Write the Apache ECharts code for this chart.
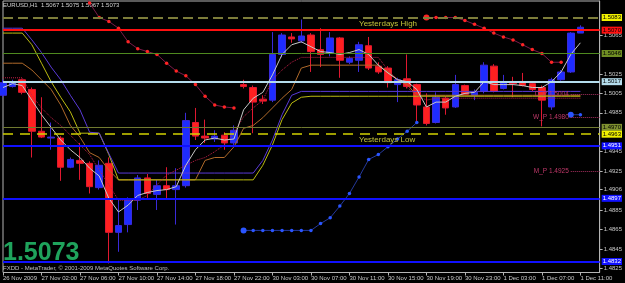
<!DOCTYPE html>
<html>
<head>
<meta charset="utf-8">
<script src="https://cdn.jsdelivr.net/npm/echarts@6/dist/echarts.min.js"></script>
<style>
  html, body { margin: 0; padding: 0; background: #000; }
  #chart { width: 625px; height: 283px; }
</style>
</head>
<body>
<div id="chart"></div>
<script>
var symbolName = 'EURUSD,H1';

// one label every 4 hourly bars
var tickLabels = ['26 Nov 2009', '27 Nov 02:00', '27 Nov 06:00', '27 Nov 10:00', '27 Nov 14:00', '27 Nov 18:00',
  '27 Nov 22:00', '30 Nov 03:00', '30 Nov 07:00', '30 Nov 11:00', '30 Nov 15:00', '30 Nov 19:00',
  '30 Nov 23:00', '1 Dec 03:00', '1 Dec 07:00', '1 Dec 11:00'];

var opens = [1.5003, 1.5012, 1.5019, 1.5009, 1.4966, 1.4959, 1.4959, 1.4929, 1.4936, 1.4933,
  1.4908, 1.4933, 1.4862, 1.4870, 1.4895, 1.4918, 1.4901, 1.4910, 1.4906, 1.4910,
  1.4975, 1.4961, 1.4958, 1.4962, 1.4954, 1.5014, 1.5011, 1.4999, 1.4998, 1.5045,
  1.5063, 1.5059, 1.5065, 1.5050, 1.5046, 1.5062, 1.5037, 1.5039, 1.5054, 1.5033,
  1.5031, 1.5014, 1.5020, 1.5014, 1.4991, 1.4975, 1.5000, 1.4991, 1.5013, 1.5003,
  1.5007, 1.5033, 1.5010, 1.5016, 1.5017, 1.5015, 1.5011, 1.4991, 1.5019, 1.5027,
  1.5067];
var closes = [1.5016, 1.5017, 1.5006, 1.4966, 1.4960, 1.4960, 1.4929, 1.4937, 1.4933, 1.4909,
  1.4931, 1.4862, 1.4869, 1.4896, 1.4918, 1.4902, 1.4910, 1.4906, 1.4910, 1.4977,
  1.4961, 1.4959, 1.4961, 1.4954, 1.4967, 1.5012, 1.4996, 1.4997, 1.5045, 1.5065,
  1.5061, 1.5064, 1.5048, 1.5045, 1.5062, 1.5039, 1.5041, 1.5055, 1.5031, 1.5027,
  1.5016, 1.5019, 1.5012, 1.4993, 1.4974, 1.5001, 1.4990, 1.5014, 1.5004, 1.5006,
  1.5034, 1.5007, 1.5016, 1.5015, 1.5013, 1.5009, 1.4998, 1.5019, 1.5027, 1.5067,
  1.5073];
var lows = [1.5001, 1.5011, 1.5004, 1.4939, 1.4959, 1.4947, 1.4915, 1.4928, 1.4916, 1.4902,
  1.4906, 1.4830, 1.4842, 1.4862, 1.4885, 1.4897, 1.4885, 1.4896, 1.4870, 1.4908,
  1.4957, 1.4954, 1.4955, 1.4947, 1.4952, 1.5010, 1.4964, 1.4994, 1.4996, 1.5042,
  1.5057, 1.5057, 1.5027, 1.5032, 1.5043, 1.5021, 1.5035, 1.5027, 1.5029, 1.5025,
  1.5011, 1.4996, 1.5010, 1.4975, 1.4972, 1.4974, 1.4983, 1.4990, 1.5003, 1.4998,
  1.5005, 1.5006, 1.5009, 1.5001, 1.5012, 1.5007, 1.4971, 1.4988, 1.5018, 1.5026,
  1.5067];
var highs = [1.5019, 1.5019, 1.5020, 1.5011, 1.5001, 1.4975, 1.4961, 1.4939, 1.4954, 1.4935,
  1.4936, 1.4939, 1.4897, 1.4898, 1.4921, 1.4922, 1.4916, 1.4929, 1.4928, 1.4985,
  1.4990, 1.4978, 1.4967, 1.4965, 1.4972, 1.5019, 1.5013, 1.5003, 1.5068, 1.5067,
  1.5067, 1.5081, 1.5067, 1.5072, 1.5068, 1.5063, 1.5043, 1.5058, 1.5063, 1.5037,
  1.5033, 1.5021, 1.5045, 1.5015, 1.5005, 1.5006, 1.5002, 1.5024, 1.5014, 1.5009,
  1.5037, 1.5035, 1.5024, 1.5022, 1.5026, 1.5017, 1.5013, 1.5021, 1.5029, 1.5068,
  1.5075];

// indicator lines
var maWhite = [1.5011, 1.5015, 1.5013, 1.4998, 1.4983, 1.4970, 1.4957, 1.4947, 1.4939, 1.4928,
  1.4920, 1.4897, 1.4883, 1.4890, 1.4900, 1.4903, 1.4905, 1.4906, 1.4909, 1.4931,
  1.4947, 1.4957, 1.4959, 1.4957, 1.4958, 1.4988, 1.5000, 1.5006, 1.5024, 1.5045,
  1.5055, 1.5058, 1.5053, 1.5048, 1.5047, 1.5045, 1.5047, 1.5050, 1.5045, 1.5034,
  1.5026, 1.5019, 1.5017, 1.5009, 1.4991, 1.4996, 1.4996, 1.5002, 1.5005, 1.5006,
  1.5017, 1.5014, 1.5014, 1.5014, 1.5013, 1.5011, 1.5011, 1.5017, 1.5027, 1.5045,
  1.5057];
var maBlue = [1.5072, 1.5072, 1.5072, 1.5060, 1.5047, 1.5032, 1.5019, 1.5003, 1.4988, 1.4965,
  1.4964, 1.4943, 1.4923, 1.4923, 1.4923, 1.4923, 1.4923, 1.4923, 1.4923, 1.4923,
  1.4923, 1.4923, 1.4923, 1.4923, 1.4923, 1.4923, 1.4923, 1.4936, 1.4957, 1.4983,
  1.5003, 1.5007, 1.5007, 1.5007, 1.5007, 1.5007, 1.5007, 1.5007, 1.5007, 1.5007,
  1.5007, 1.5007, 1.5007, 1.5007, 1.5007, 1.5007, 1.5007, 1.5007, 1.5007, 1.5007,
  1.5007, 1.5007, 1.5007, 1.5007, 1.5007, 1.5007, 1.5007, 1.5007, 1.5007, 1.5007,
  1.5007];
var maYellow = [1.5067, 1.5067, 1.5067, 1.5055, 1.5036, 1.5017, 1.5001, 1.4986, 1.4964, 1.4964,
  1.4964, 1.4942, 1.4916, 1.4916, 1.4916, 1.4916, 1.4916, 1.4916, 1.4916, 1.4916,
  1.4916, 1.4916, 1.4916, 1.4916, 1.4916, 1.4916, 1.4916, 1.4931, 1.4952, 1.4978,
  1.4995, 1.5001, 1.5002, 1.5002, 1.5002, 1.5002, 1.5002, 1.5002, 1.5002, 1.5002,
  1.5002, 1.5002, 1.5002, 1.5002, 1.5002, 1.5002, 1.5002, 1.5002, 1.5002, 1.5002,
  1.5002, 1.5002, 1.5002, 1.5002, 1.5002, 1.5002, 1.5002, 1.5002, 1.5002, 1.5002,
  1.5002];
var maOrange = [1.5036, 1.5036, 1.5036, 1.5029, 1.5019, 1.5009, 1.4993, 1.4972, 1.4960, 1.4944,
  1.4939, 1.4926, 1.4916, 1.4916, 1.4916, 1.4916, 1.4916, 1.4916, 1.4916, 1.4916,
  1.4916, 1.4936, 1.4939, 1.4939, 1.4950, 1.4969, 1.4972, 1.4980, 1.4990, 1.5000,
  1.5009, 1.5031, 1.5034, 1.5034, 1.5034, 1.5034, 1.5034, 1.5034, 1.5034, 1.5034,
  1.5027, 1.5019, 1.5014, 1.5003, 1.5003, 1.5003, 1.5003, 1.5003, 1.5003, 1.5003,
  1.5003, 1.5003, 1.5003, 1.5003, 1.5003, 1.5003, 1.5003, 1.5003, 1.5003, 1.5003,
  1.5003];
var maRed = [1.5021, 1.5021, 1.5021, 1.5003, 1.4990, 1.4980, 1.4972, 1.4962, 1.4952, 1.4942,
  1.4926, 1.4911, 1.4895, 1.4895, 1.4895, 1.4900, 1.4911, 1.4921, 1.4926, 1.4931,
  1.4936, 1.4939, 1.4945, 1.4952, 1.4964, 1.4981, 1.4990, 1.4998, 1.5019, 1.5029,
  1.5037, 1.5042, 1.5042, 1.5042, 1.5042, 1.5042, 1.5042, 1.5042, 1.5042, 1.5042,
  1.5029, 1.5019, 1.5011, 1.5003, 1.4998, 1.5000, 1.5000, 1.5000, 1.5000, 1.5000,
  1.5000, 1.5000, 1.5000, 1.5000, 1.5000, 1.5000, 1.5000, 1.5000, 1.5000, 1.5000,
  1.5000];

// trailing stop dots (above price = short, below = long)
var sar = [null, null, null, null, null, null, null, null, 1.5113, 1.5098,
  1.5083, 1.5079, 1.5072, 1.5058, 1.5051, 1.5048, 1.5045, 1.5036, 1.5028, 1.5023,
  1.5014, 1.5002, 1.4993, 1.4991, 1.4990, 1.4864, 1.4864, 1.4864, 1.4864, 1.4864,
  1.4864, 1.4864, 1.4864, 1.4871, 1.4877, 1.4889, 1.4902, 1.4919, 1.4937, 1.4942,
  1.4950, 1.4958, 1.4966, 1.4975, 1.5083, 1.5083, 1.5083, 1.5083, 1.5080, 1.5076,
  1.5072, 1.5067, 1.5063, 1.5060, 1.5055, 1.5050, 1.5046, 1.5037, 1.5037, 1.4983,
  1.4983];

var yTicks = [1.5065, 1.5025, 1.5005, 1.4985, 1.4945, 1.4925, 1.4906, 1.4885, 1.4865, 1.4845, 1.4825];

var levelValues = [1.5083, 1.5070, 1.5046, 1.5017, 1.4970, 1.4963, 1.4951, 1.4897, 1.4832];
var dailyLevels = [1.5017, 1.4951, 1.4897, 1.4832];
var yesterdayHigh = 1.5083;
var yesterdayLow = 1.4963;
var pivotNames = ['D_P', 'W_P', 'M_P'];
var pivotValues = [1.5004, 1.4980, 1.4925];

// look of each level, same order as levelValues
var levelStyles = [
  { line: '#7d7d3a', width: 2, type: [10, 5], box: '#f0f000', text: '#000' },
  { line: '#ff1010', width: 2, type: 'solid', box: '#ff1010', text: '#000' },
  { line: '#4f8a1f', width: 1, type: 'solid', box: '#6f8e23', text: '#000' },
  { line: '#b4dcec', width: 2, type: 'solid', box: '#b4dcec', text: '#000' },
  { line: '#707a30', width: 1, type: 'solid', box: '#7f9030', text: '#000' },
  { line: '#d2d200', width: 1.5, type: [10, 7], box: '#f0f000', text: '#000' },
  { line: '#1010ff', width: 2, type: 'solid', box: '#1010ff', text: '#fff' },
  { line: '#1010ff', width: 2, type: 'solid', box: '#1010ff', text: '#fff' },
  { line: '#1010ff', width: 2, type: 'solid', box: '#1010ff', text: '#fff' }
];

var SLOTS = 63;
var categories = [];
for (var i = 0; i < SLOTS; i++) categories.push(String(i));

function labelFor(index) {
  return index % 4 === 0 && tickLabels[index / 4] ? tickLabels[index / 4] : '';
}

var candles = opens.map(function (o, k) { return [o, closes[k], lows[k], highs[k]]; });

// split the stop dots into runs; first dot of a run is drawn larger
function sarRuns() {
  var runs = [];
  var current = null;
  sar.forEach(function (v, k) {
    if (v == null) return;
    var side = v > closes[k] ? 'short' : 'long';
    if (!current || current.side !== side) {
      current = { side: side, data: new Array(closes.length).fill(null), first: true };
      runs.push(current);
    }
    current.data[k] = current.first && k > 8 ? { value: v, symbolSize: 6 } : v;
    current.first = false;
  });
  return runs;
}

function maSeries(name, data, color, type) {
  return {
    name: name, type: 'line', data: data, symbol: 'none', z: 3, silent: true,
    lineStyle: { color: color, width: 1, type: type || 'solid' }
  };
}

var chart = echarts.init(document.getElementById('chart'), null, { renderer: 'canvas' });

var series = [];

series.push({
  type: 'line', data: [], z: 1, silent: true,
  markLine: {
    silent: true, animation: false, symbol: ['none', 'none'], precision: 4,
    data: pivotValues.map(function (v, k) {
      return [
        {
          coord: [59, v],
          lineStyle: { color: '#a83060', width: 1, type: 'dotted' },
          label: {
            show: true, position: 'start', distance: 2, color: '#c0386a', fontSize: 6.5,
            formatter: pivotNames[k] + ' ' + v.toFixed(4)
          }
        },
        { coord: [SLOTS - 1, v] }
      ];
    })
  }
});

series.push({
  type: 'candlestick', data: candles, barWidth: 7, z: 2, silent: true,
  itemStyle: {
    color: '#1e2cff', color0: '#ff2020',
    borderColor: '#3a2ad8', borderColor0: '#e01830', borderWidth: 1
  }
});

series.push(maSeries('orange', maOrange, '#b06a2a'));
series.push(maSeries('yellow', maYellow, '#bcbc10'));
series.push(maSeries('blue', maBlue, '#5a3ad8'));
series.push(maSeries('red', maRed, '#c02048', 'dotted'));
series.push(maSeries('white', maWhite, '#c8c8c8'));

sarRuns().forEach(function (run) {
  var red = run.side === 'short';
  series.push({
    type: 'line', data: run.data, z: 4, silent: true,
    symbol: 'circle', symbolSize: 3.5, showAllSymbol: true, connectNulls: false,
    itemStyle: { color: red ? '#ff2424' : '#2a55ff' },
    lineStyle: { color: red ? '#7a1a48' : '#24389a', width: 1 }
  });
});

series.push({
  type: 'line', data: [], z: 5, silent: true,
  markLine: {
    silent: true, animation: false, symbol: ['none', 'none'], precision: 4,
    data: levelValues.map(function (v, k) {
      var s = levelStyles[k];
      return {
        yAxis: v,
        lineStyle: { color: s.line, width: s.width, type: s.type },
        label: {
          show: true, position: 'end', distance: 2, formatter: v.toFixed(4),
          backgroundColor: s.box, color: s.text, fontSize: 6, padding: [1, 1, 0, 1]
        }
      };
    }).concat(dailyLevels.map(function (v) {
      return {
        yAxis: v,
        lineStyle: { opacity: 0 },
        label: {
          show: true, position: 'insideEndBottom', distance: 1, formatter: 'Daily_',
          color: '#a0a0a0', fontSize: 6
        }
      };
    }))
  },
  markPoint: {
    silent: true, animation: false, symbol: 'circle', symbolSize: 0,
    label: { show: true, position: 'right', distance: 0, offset: [0, 6], color: '#c4c43a', fontSize: 8 },
    data: [
      { coord: [37, yesterdayHigh], label: { formatter: 'Yesterdays High' } },
      { coord: [37, yesterdayLow], label: { formatter: 'Yesterdays Low' } }
    ]
  }
});

var last = candles.length - 1;
var header = symbolName + '  ' + [opens[last], highs[last], lows[last], closes[last]].map(function (v) {
  return v.toFixed(4);
}).join(' ');

chart.setOption({
  backgroundColor: '#000',
  animation: false,
  textStyle: { fontFamily: 'Liberation Sans' },
  grid: { left: 2, right: 22.5, top: 1, bottom: 10.5, show: true, borderColor: '#b4b4b4', borderWidth: 1 },
  xAxis: {
    type: 'category', data: categories, boundaryGap: false,
    axisLine: { show: false },
    axisTick: {
      show: true, length: 3, lineStyle: { color: '#b4b4b4' },
      interval: function (index) { return labelFor(index) !== ''; }
    },
    axisLabel: {
      interval: 0, align: 'left', margin: 3, color: '#c8c8c8', fontSize: 6,
      formatter: function (value, index) { return labelFor(index); }
    },
    splitLine: { show: false }
  },
  yAxis: {
    type: 'value', position: 'right', min: 1.48207, max: 1.5100, scale: true,
    axisLine: { show: true, lineStyle: { color: '#b4b4b4' } },
    axisTick: { show: true, length: 3, customValues: yTicks, lineStyle: { color: '#b4b4b4' } },
    axisLabel: {
      customValues: yTicks, margin: 4, color: '#c8c8c8', fontSize: 6,
      formatter: function (v) { return v.toFixed(4); }
    },
    splitLine: { show: false }
  },
  graphic: [
    { type: 'text', left: 3, top: 2, silent: true,
      style: { text: header, fill: '#d4d4d4', font: '6px "Liberation Sans"' } },
    { type: 'text', left: 3, top: 241, silent: true,
      style: { text: closes[last].toFixed(4), fill: '#1fa35c', font: 'bold 25px "Liberation Sans"' } },
    { type: 'text', left: 3, top: 265, silent: true,
      style: { text: 'FXDD - MetaTrader, \u00a9 2001-2009 MetaQuotes Software Corp.', fill: '#c0c0c0', font: '6px "Liberation Sans"' } }
  ],
  series: series
});
</script>
</body>
</html>
